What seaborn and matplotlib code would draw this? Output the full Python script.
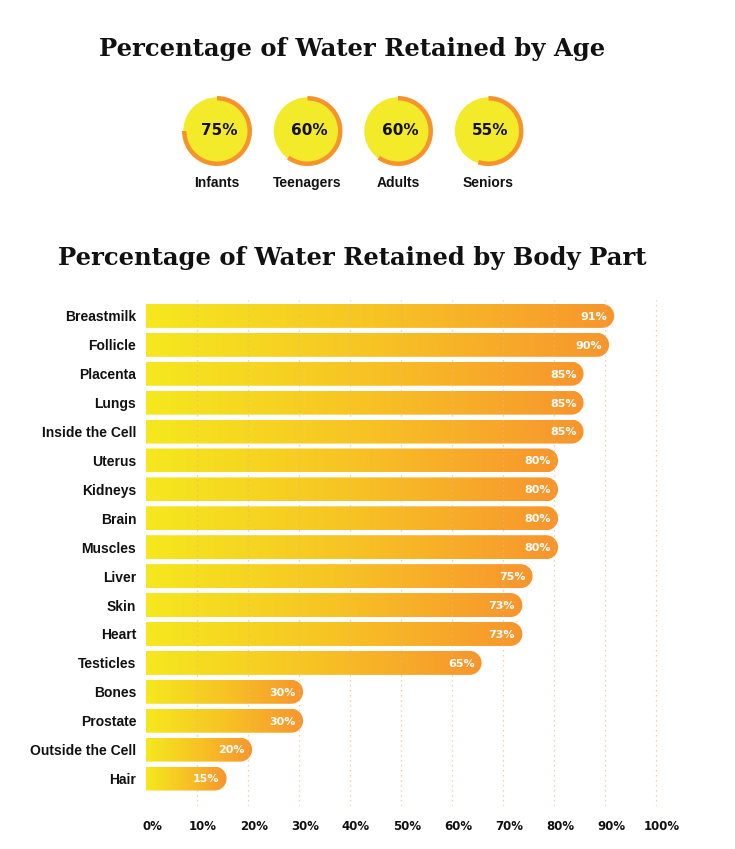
import numpy as np
import pandas as pd
import seaborn as sns
import matplotlib.pyplot as plt
from matplotlib.colors import LinearSegmentedColormap
from matplotlib.patches import PathPatch, Circle
from matplotlib.path import Path
import matplotlib.transforms as mtransforms

# data
age_groups = ["Infants", "Teenagers", "Adults", "Seniors"]
age_values = [75, 60, 60, 55]

body_parts = ["Breastmilk", "Follicle", "Placenta", "Lungs", "Inside the Cell", "Uterus",
              "Kidneys", "Brain", "Muscles", "Liver", "Skin", "Heart", "Testicles",
              "Bones", "Prostate", "Outside the Cell", "Hair"]
body_values = [91, 90, 85, 85, 85, 80, 80, 80, 80, 75, 73, 73, 65, 30, 30, 20, 15]
x_ticks = [0, 10, 20, 30, 40, 50, 60, 70, 80, 90, 100]

sns.set_style("white")
plt.rcParams['font.family'] = ['Liberation Sans', 'DejaVu Sans']

YELLOW = "#F3EA2A"
ORANGE = "#F7932C"
GRID = "#EBB585"
grad = LinearSegmentedColormap.from_list("yo", ["#F5E81E", "#F7C324", "#F7952E"])

W, H = 735, 849
fig = plt.figure(figsize=(W / 100, H / 100), dpi=100)

# ---- top section: rings by age ----
top = fig.add_axes([0, 0, 1, 1])
top.set_axis_off()
cx0, step, cy, r = 217, 90.5, H - 131, 35
for i, (name, val) in enumerate(zip(age_groups, age_values)):
    cx = cx0 + step * i
    top.add_patch(Circle((cx, cy), r - 2, color=YELLOW, zorder=1))
    top.pie([val, 100 - val], center=(cx, cy), radius=r, startangle=90,
            counterclock=False, colors=[ORANGE, "none"],
            wedgeprops=dict(width=4.5, linewidth=0))
    top.text(cx + 2, cy + 1, f"{val}%", ha="center", va="center", fontsize=11,
             fontweight="bold", family="DejaVu Sans", color="#111111", zorder=5)
    top.text(cx, H - 183, name, ha="center", va="center", fontsize=10,
             fontweight="bold", color="#111111")
top.set_xlim(0, W)
top.set_ylim(0, H)
top.set_aspect("auto")
top.set_position([0, 0, 1, 1])

fig.text(352 / W, 1 - 49 / H, "Percentage of Water Retained by Age", ha="center",
         va="center", fontsize=17.5, fontweight="bold", family="DejaVu Serif",
         color="#111111")
fig.text(352 / W, 1 - 258 / H, "Percentage of Water Retained by Body Part", ha="center",
         va="center", fontsize=17.5, fontweight="bold", family="DejaVu Serif",
         color="#111111")

# ---- bar chart by body part ----
px_unit = 5.1
x_left, x_right = 146, 146 + 102 * px_unit
y_top, y_bot = 300, 806
ax = fig.add_axes([x_left / W, 1 - y_bot / H, (x_right - x_left) / W, (y_bot - y_top) / H])
df = pd.DataFrame({"part": body_parts, "value": body_values})
sns.barplot(data=df, x="value", y="part", orient="h", ax=ax, width=0.83,
            color=ORANGE, saturation=1)
ax.set_xlim(0, 102)
ax.set_ylim(16.95, -0.55)
ax.set_xlabel("")
ax.set_ylabel("")
sns.despine(ax=ax, left=True, bottom=True)

# per-bar gradient pills
p0 = ax.transData.transform((0, 0))
p1 = ax.transData.transform((1, 1))
sx, sy = abs(p1[0] - p0[0]), abs(p1[1] - p0[1])
for patch, val in zip(ax.patches, body_values):
    x0, w = patch.get_x(), patch.get_width()
    y0, h = patch.get_y(), patch.get_height()
    x1 = x0 + w + 0.8
    patch.set_visible(False)
    rx = (h / 2) * sy / sx
    yc = y0 + h / 2
    t = np.linspace(-np.pi / 2, np.pi / 2, 40)
    verts = [(x0, y0), (x1 - rx, y0)]
    verts += [(x1 - rx + rx * np.cos(a), yc + (h / 2) * np.sin(a)) for a in t]
    verts += [(x0, y0 + h), (x0, y0)]
    codes = [Path.MOVETO] + [Path.LINETO] * (len(verts) - 2) + [Path.CLOSEPOLY]
    pp = PathPatch(Path(verts, codes), facecolor="none", edgecolor="none")
    ax.add_patch(pp)
    im = ax.imshow(np.linspace(0, 1, 256).reshape(1, -1), cmap=grad, aspect="auto",
                   extent=(x0, x1, y0 + h, y0), zorder=2, interpolation="bilinear")
    im.set_clip_path(pp)
    ax.text(x1 - 1.4, yc + 0.03, f"{val}%", ha="right", va="center", color="white",
            fontsize=8, fontweight="bold", family="DejaVu Sans", zorder=4)

ax.set_xlim(0, 102)
ax.set_ylim(16.95, -0.55)
for xv in x_ticks[1:]:
    ax.axvline(xv, color=GRID, lw=0.9, ls=(0, (1, 3)), zorder=3, alpha=0.8)

ax.set_xticks(x_ticks)
ax.set_xticklabels([f"{v}%" for v in x_ticks], fontsize=8.5, fontweight="bold",
                   family="DejaVu Sans", color="#111111")
ax.tick_params(axis="x", length=0, pad=10)
offset = mtransforms.ScaledTranslation(6 / 100, 0, fig.dpi_scale_trans)
for lab in ax.get_xticklabels():
    lab.set_transform(lab.get_transform() + offset)
ax.tick_params(axis="y", length=0, pad=7)
for lab in ax.get_yticklabels():
    lab.set_fontsize(10)
    lab.set_fontweight("bold")
    lab.set_color("#111111")

fig.savefig("out.png", dpi=100)
